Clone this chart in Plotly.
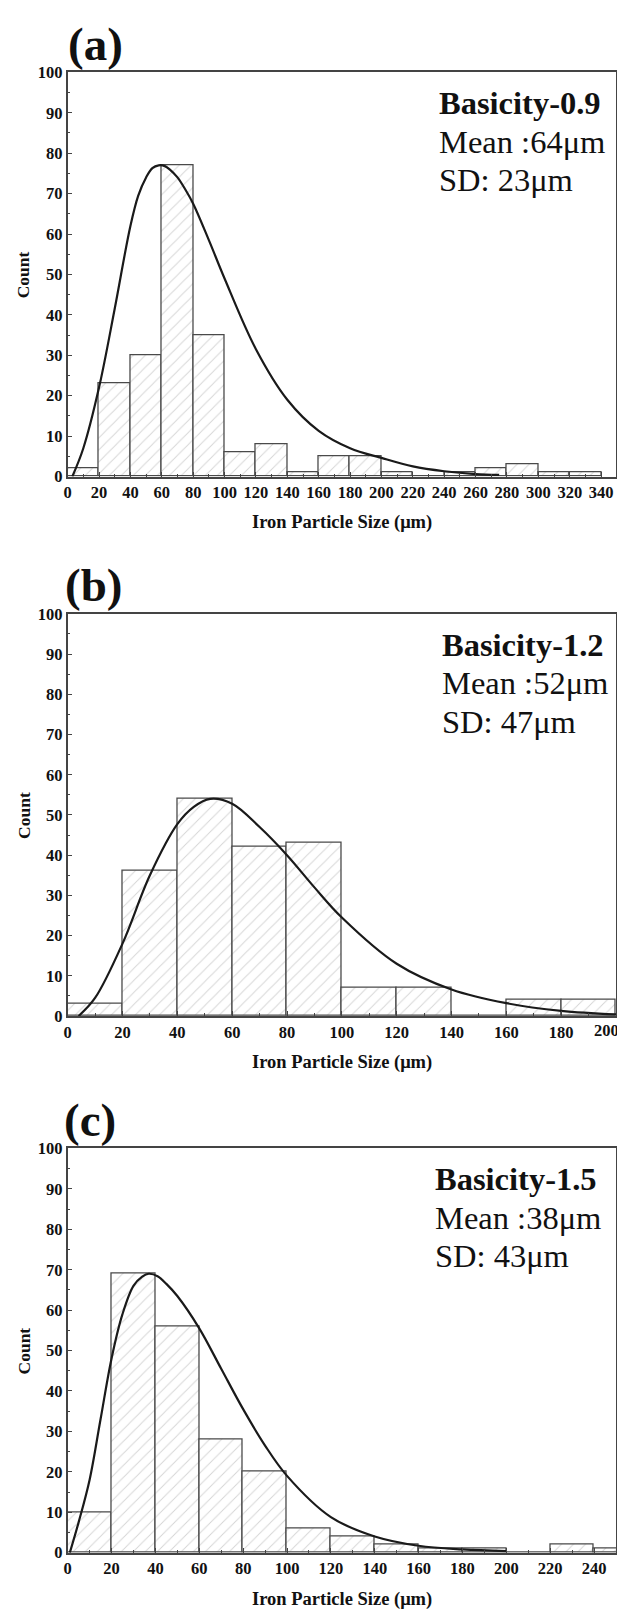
import plotly.graph_objects as go

# ---------------- data ----------------
bin_width = 20
bins_a = list(range(0, 340, 20))
counts_a = [2, 23, 30, 77, 35, 6, 8, 1, 5, 5, 1, 0, 1, 2, 3, 1, 1]
curve_a_x = [3, 10, 20, 30, 40, 45, 50, 54, 58, 62, 65, 70, 75, 80, 90, 100, 120, 140, 160, 180, 200, 220, 240, 260, 275]
curve_a_y = [0, 7, 22, 41.5, 62, 69.5, 74, 76.3, 77, 76.8, 76, 74, 71, 67.5, 58.5, 49, 31.5, 19, 11.3, 7, 4.6, 2.5, 1.3, 0.6, 0.4]

bins_b = list(range(0, 200, 20))
counts_b = [3, 36, 54, 42, 43, 7, 7, 0, 4, 4]
curve_b_x = [4, 10, 20, 30, 40, 46, 52, 60, 70, 80, 90, 100, 120, 140, 160, 180, 200]
curve_b_y = [0, 4.5, 18, 35, 47.7, 52, 54, 52.8, 47, 40, 32, 24.5, 13, 6.6, 3.2, 1.3, 0.4]

bins_c = list(range(0, 260, 20))
counts_c = [10, 69, 56, 28, 20, 6, 4, 2, 1, 1, 0, 2, 1]
curve_c_x = [1, 5, 10, 15, 20, 25, 30, 34, 37, 41, 45, 50, 60, 70, 80, 90, 100, 120, 140, 160, 180, 200]
curve_c_y = [0, 7.5, 18, 33, 48, 59, 66, 68.3, 69, 68.4, 66.5, 63.5, 55.5, 45.5, 35.5, 26.5, 19, 8.8, 4, 1.7, 0.8, 0.4]

panel_labels = ["(a)", "(b)", "(c)"]
basicity = ["Basicity-0.9", "Basicity-1.2", "Basicity-1.5"]
means = ["Mean :64μm", "Mean :52μm", "Mean :38μm"]
sds = ["SD: 23μm", "SD: 47μm", "SD: 43μm"]
x_max = [349.5, 200, 250]
x_ticks_max = [340, 200, 240]
y_ticks = list(range(0, 101, 10))
x_title = "Iron Particle Size (μm)"
y_title = "Count"

# ---------------- layout geometry (window pixels; page body has an 8px margin) ----------------
OFF = 8
W, H = 625 - OFF, 1617 - OFF
plot_left, plot_right = 64, 616
tops = [64, 612, 1153]
bottoms = [473, 1019, 1562]
text_left = [436, 439, 432]
label_left = [62, 59, 58]

def px(v):
    return (v - OFF) / W

def py(v):
    return 1 - (v - OFF) / H

FONT = "Liberation Serif"

fig = go.Figure()
annotations = []
for i in range(3):
    bins = [bins_a, bins_b, bins_c][i]
    counts = [counts_a, counts_b, counts_c][i]
    cx = [curve_a_x, curve_b_x, curve_c_x][i]
    cy = [curve_a_y, curve_b_y, curve_c_y][i]
    xa = "x" if i == 0 else f"x{i+1}"
    ya = "y" if i == 0 else f"y{i+1}"
    centers = [b + bin_width / 2 for b in bins]
    fig.add_trace(go.Bar(
        x=centers, y=counts, width=bin_width, xaxis=xa, yaxis=ya,
        marker=dict(color="white",
                    line=dict(color="#4a4a4a", width=1.3),
                    pattern=dict(shape="/", fgcolor="#ababab", bgcolor="white",
                                 size=8.5, solidity=0.11)),
        showlegend=False,
    ))
    fig.add_trace(go.Scatter(
        x=cx, y=cy, mode="lines", xaxis=xa, yaxis=ya,
        line=dict(color="#1a1a1a", width=2.2, shape="spline", smoothing=1.0),
        showlegend=False,
    ))
    axis_common = dict(showline=True, linecolor="#444", linewidth=1.5, mirror=True,
                       showgrid=False, zeroline=False, ticks="inside", ticklen=5,
                       tickcolor="#444",
                       tickfont=dict(family=FONT, size=16.5, color="#111", weight="bold"))
    xkey = "xaxis" if i == 0 else f"xaxis{i+1}"
    ykey = "yaxis" if i == 0 else f"yaxis{i+1}"
    fig.update_layout(**{
        xkey: dict(axis_common, domain=[px(plot_left), px(plot_right)],
                   range=[0, x_max[i]], anchor=ya,
                   tickvals=list(range(0, x_ticks_max[i] + 1, 20)),
                   minor=dict(tickvals=list(range(10, int(x_max[i]), 20)), ticks="inside",
                              ticklen=3, tickcolor="#444")),
        ykey: dict(axis_common, domain=[py(bottoms[i]), py(tops[i])],
                   range=[0, 100], anchor=xa, tickvals=y_ticks,
                   minor=dict(tickvals=list(range(5, 100, 10)), ticks="inside",
                              ticklen=3, tickcolor="#444")),
    })
    # panel label
    annotations.append(dict(text=f"<b>{panel_labels[i]}</b>", x=px(label_left[i]), y=py(tops[i] - 29),
                            xref="paper", yref="paper", xanchor="left", yanchor="middle",
                            showarrow=False, font=dict(family=FONT, size=47, color="#111")))
    # stats text
    for t, off, bold in [(basicity[i], 31, True), (means[i], 70, False), (sds[i], 109, False)]:
        annotations.append(dict(text=f"<b>{t}</b>" if bold else t,
                                x=px(text_left[i]), y=py(tops[i] + off),
                                xref="paper", yref="paper", xanchor="left", yanchor="middle",
                                showarrow=False, font=dict(family=FONT, size=32.5, color="#111")))
    # axis titles
    annotations.append(dict(text=f"<b>{x_title}</b>", x=px((plot_left + plot_right) / 2),
                            y=py(bottoms[i] + 47), xref="paper", yref="paper",
                            xanchor="center", yanchor="middle", showarrow=False,
                            font=dict(family=FONT, size=18.5, color="#111")))
    annotations.append(dict(text=f"<b>{y_title}</b>", x=px(20), y=py((tops[i] + bottoms[i]) / 2),
                            xref="paper", yref="paper", xanchor="center", yanchor="middle",
                            textangle=-90, showarrow=False,
                            font=dict(family=FONT, size=17.5, color="#111")))

# last tick label of panel (b) sits on the page edge; keep it inside the page
annotations.append(dict(text=f"<b>{x_ticks_max[1]}</b>", x=px(621), y=py(bottoms[1] + 15),
                        xref="paper", yref="paper", xanchor="right", yanchor="middle",
                        showarrow=False, font=dict(family=FONT, size=16.5, color="#111")))

fig.update_layout(width=W, height=H, margin=dict(l=0, r=0, t=0, b=0),
                  paper_bgcolor="white", plot_bgcolor="white",
                  annotations=annotations, bargap=0)
fig.write_html("out.html")
